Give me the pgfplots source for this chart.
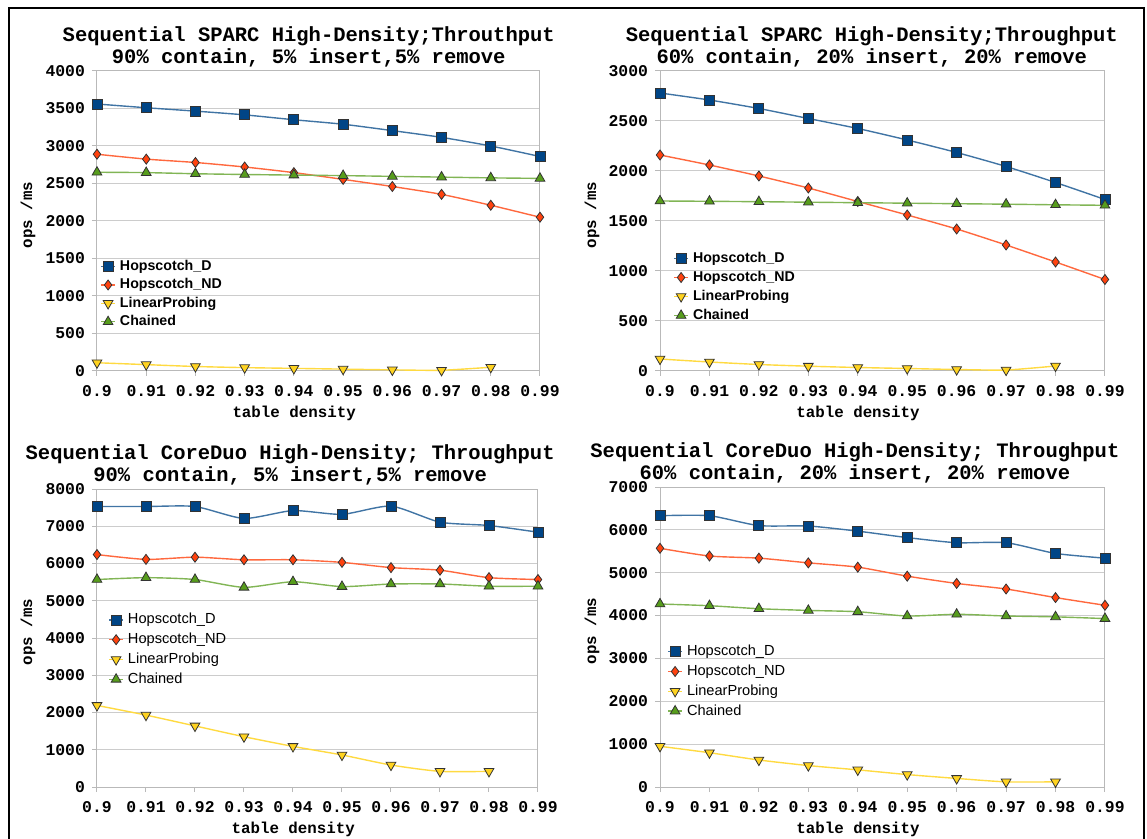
\documentclass[border=0pt]{standalone}
\usepackage{fontspec}
\setmainfont{Liberation Mono}
\newfontfamily\legfont{Liberation Sans}
\usepackage{pgfplots}
\pgfplotsset{compat=1.18}
\newcommand\titfont{\bfseries\fontsize{10.25}{11}\selectfont}
\newcommand\ticfont{\bfseries\fontsize{8.2}{9}\selectfont}
\newcommand\labfont{\bfseries\fontsize{7.9}{9}\selectfont}
\definecolor{hdc}{HTML}{004586}
\definecolor{ndc}{HTML}{FF420E}
\definecolor{lpc}{HTML}{FFD320}
\definecolor{chc}{HTML}{579D1C}
\pgfplotsset{
  panel/.style={
    scale only axis, clip=false,
    xmin=0.9, xmax=0.99, ymin=0,
    xtick={0.9,0.91,0.92,0.93,0.94,0.95,0.96,0.97,0.98,0.99},
    xticklabels={0.9,0.91,0.92,0.93,0.94,0.95,0.96,0.97,0.98,0.99},
    xtick pos=bottom, ytick pos=left,
    ymajorgrids, grid style={gray!40, line width=0.5pt},
    axis line style={gray!55, line width=0.5pt},
    tick style={gray!55, line width=0.5pt},
    tick align=outside, major tick length=2.5pt,
    tick label style={font=\ticfont},
    xticklabel style={yshift=-1pt},
    /pgf/number format/assume math mode=true,
    /pgf/number format/1000 sep={},
    scaled y ticks=false,
    xlabel={table density}, ylabel={ops /ms},
    label style={font=\labfont},
    xlabel style={at={([yshift=-21pt]axis description cs:0.445,0)}, anchor=center},
    title style={font=\titfont, align=center, anchor=south, inner sep=0pt, yshift=-4.5pt},
    legend cell align=left,
    legend image code/.code={\draw[mark repeat=2,mark phase=2,##1] plot coordinates {(0pt,0pt)(3.5pt,0pt)(7pt,0pt)};},
  },
  hd/.style={color=hdc!75!white, line width=0.7pt, smooth, tension=0.4, mark=square*, mark size=2.5pt, mark options={fill=hdc, draw=black!80, line width=0.4pt}},
  nd/.style={color=ndc!80!white, line width=0.7pt, smooth, tension=0.4, mark=diamond*, mark size=2.5pt, mark options={fill=ndc, draw=black!80, line width=0.4pt}},
  lp/.style={color=lpc!85!white, line width=0.7pt, smooth, tension=0.4, mark=triangle*, mark size=2.8pt, mark options={fill=lpc, draw=black!80, line width=0.4pt, rotate=180}},
  ch/.style={color=chc!75!white, line width=0.7pt, smooth, tension=0.4, mark=triangle*, mark size=2.8pt, mark options={fill=chc, draw=black!80, line width=0.4pt}},
  leg/.style={draw=none, fill=none, anchor=north west,
    nodes={inner sep=0.6pt, text height=5.5pt, text depth=1.5pt},
    /tikz/every odd column/.append style={column sep=1.5pt}},
}
\begin{document}
\begin{tikzpicture}
\useasboundingbox (0,0) rectangle (573.5pt,-419.5pt);
\draw[line width=1pt] (4.5pt,-425pt) -- (4.5pt,-4pt) -- (572pt,-4pt) -- (572pt,-425pt);

% Top left
\begin{axis}[panel, at={(48.5pt,-185.5pt)}, anchor=south west,
  width=221.5pt, height=150pt, ymax=4000, ytick distance=500,
  title={Sequential SPARC High-Density;Throuthput\\90\% contain, 5\% insert,5\% remove},
  title style={at={(axis description cs:0.478,1)}},
  ylabel style={at={([xshift=-34.5pt]axis description cs:0,0.52)}, anchor=center},
  legend style={leg, at={([xshift=-1.5pt]axis description cs:0,0.39)},
    font=\legfont\bfseries\fontsize{7.1}{8}\selectfont, row sep=1pt},
]
\addplot[hd] coordinates {(0.9,3560)(0.91,3510)(0.92,3465)(0.93,3415)(0.94,3350)(0.95,3290)(0.96,3205)(0.97,3115)(0.98,3000)(0.99,2860)};
\addplot[nd] coordinates {(0.9,2890)(0.91,2825)(0.92,2780)(0.93,2720)(0.94,2645)(0.95,2555)(0.96,2460)(0.97,2355)(0.98,2210)(0.99,2050)};
\addplot[lp] coordinates {(0.9,110)(0.91,85)(0.92,60)(0.93,45)(0.94,35)(0.95,25)(0.96,15)(0.97,10)(0.98,50)};
\addplot[ch] coordinates {(0.9,2650)(0.91,2645)(0.92,2630)(0.93,2620)(0.94,2612)(0.95,2605)(0.96,2595)(0.97,2585)(0.98,2575)(0.99,2568)};
\legend{Hopscotch\_D,Hopscotch\_ND,LinearProbing,Chained}
\end{axis}

% Top right
\begin{axis}[panel, at={(330pt,-185.5pt)}, anchor=south west,
  width=222.5pt, height=150pt, ymax=3000, ytick distance=500,
  title={Sequential SPARC High-Density;Throughput\\60\% contain, 20\% insert, 20\% remove},
  title style={at={(axis description cs:0.476,1)}},
  ylabel style={at={([xshift=-34pt]axis description cs:0,0.52)}, anchor=center},
  legend style={leg, at={([xshift=3.5pt]axis description cs:0,0.417)},
    font=\legfont\bfseries\fontsize{7.1}{8}\selectfont, row sep=1.3pt},
]
\addplot[hd] coordinates {(0.9,2780)(0.91,2710)(0.92,2625)(0.93,2525)(0.94,2425)(0.95,2310)(0.96,2185)(0.97,2045)(0.98,1885)(0.99,1715)};
\addplot[nd] coordinates {(0.9,2160)(0.91,2060)(0.92,1950)(0.93,1830)(0.94,1695)(0.95,1560)(0.96,1420)(0.97,1260)(0.98,1090)(0.99,915)};
\addplot[lp] coordinates {(0.9,120)(0.91,90)(0.92,65)(0.93,48)(0.94,35)(0.95,25)(0.96,15)(0.97,10)(0.98,50)};
\addplot[ch] coordinates {(0.9,1700)(0.91,1697)(0.92,1693)(0.93,1688)(0.94,1683)(0.95,1678)(0.96,1673)(0.97,1668)(0.98,1662)(0.99,1657)};
\legend{Hopscotch\_D,Hopscotch\_ND,LinearProbing,Chained}
\end{axis}

% Bottom left
\begin{axis}[panel, at={(48.5pt,-393.5pt)}, anchor=south west,
  width=220.5pt, height=149pt, ymax=8000, ytick distance=1000,
  title={Sequential CoreDuo High-Density; Throughput\\90\% contain, 5\% insert,5\% remove},
  title style={at={(axis description cs:0.438,1)}},
  ylabel style={at={([xshift=-34.5pt]axis description cs:0,0.52)}, anchor=center},
  legend style={leg, at={([xshift=2.5pt]axis description cs:0,0.603)},
    font=\legfont\fontsize{7.3}{8}\selectfont, row sep=1.7pt},
]
\addplot[hd] coordinates {(0.9,7530)(0.91,7530)(0.92,7530)(0.93,7210)(0.94,7420)(0.95,7320)(0.96,7540)(0.97,7110)(0.98,7020)(0.99,6840)};
\addplot[nd] coordinates {(0.9,6240)(0.91,6110)(0.92,6170)(0.93,6100)(0.94,6100)(0.95,6030)(0.96,5890)(0.97,5820)(0.98,5620)(0.99,5570)};
\addplot[lp] coordinates {(0.9,2190)(0.91,1930)(0.92,1640)(0.93,1350)(0.94,1090)(0.95,860)(0.96,590)(0.97,420)(0.98,420)};
\addplot[ch] coordinates {(0.9,5570)(0.91,5620)(0.92,5570)(0.93,5360)(0.94,5510)(0.95,5380)(0.96,5450)(0.97,5450)(0.98,5390)(0.99,5390)};
\legend{Hopscotch\_D,Hopscotch\_ND,LinearProbing,Chained}
\end{axis}

% Bottom right
\begin{axis}[panel, at={(330pt,-393.5pt)}, anchor=south west,
  width=222.5pt, height=150pt, ymax=7000, ytick distance=1000,
  title={Sequential CoreDuo High-Density; Throughput\\60\% contain, 20\% insert, 20\% remove},
  title style={at={(axis description cs:0.438,1)}},
  ylabel style={at={([xshift=-34pt]axis description cs:0,0.52)}, anchor=center},
  legend style={leg, at={([xshift=0.5pt]axis description cs:0,0.493)},
    font=\legfont\fontsize{7.3}{8}\selectfont, row sep=1.7pt},
]
\addplot[hd] coordinates {(0.9,6330)(0.91,6330)(0.92,6100)(0.93,6090)(0.94,5970)(0.95,5820)(0.96,5700)(0.97,5700)(0.98,5450)(0.99,5340)};
\addplot[nd] coordinates {(0.9,5570)(0.91,5390)(0.92,5340)(0.93,5230)(0.94,5130)(0.95,4920)(0.96,4750)(0.97,4620)(0.98,4420)(0.99,4240)};
\addplot[lp] coordinates {(0.9,950)(0.91,800)(0.92,630)(0.93,500)(0.94,400)(0.95,290)(0.96,200)(0.97,120)(0.98,120)};
\addplot[ch] coordinates {(0.9,4270)(0.91,4230)(0.92,4160)(0.93,4120)(0.94,4090)(0.95,3990)(0.96,4030)(0.97,3990)(0.98,3970)(0.99,3930)};
\legend{Hopscotch\_D,Hopscotch\_ND,LinearProbing,Chained}
\end{axis}
\end{tikzpicture}
\end{document}
